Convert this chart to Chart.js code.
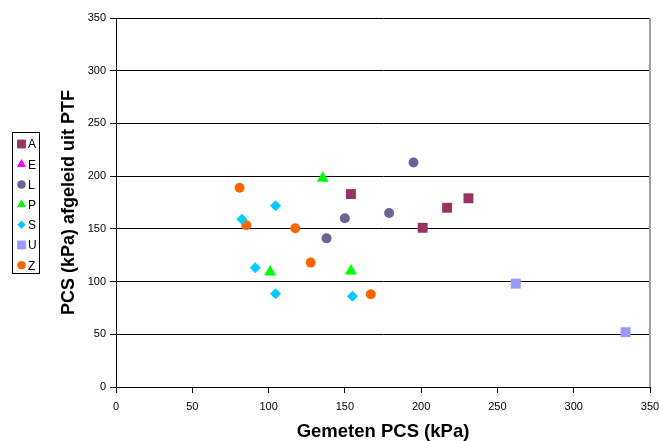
<!DOCTYPE html>
<html>
<head>
<meta charset="utf-8">
<script src="https://cdn.jsdelivr.net/npm/chart.js@4/dist/chart.umd.min.js"></script>
<style>
  html, body { margin: 0; padding: 0; background: #fff; }
  #wrap { width: 659px; height: 441px; }
</style>
</head>
<body>
<div id="wrap"><canvas id="c" width="659" height="441"></canvas></div>
<script>
// series (x = gemeten, y = afgeleid uit PTF)
const seriesNames = ["A", "E", "L", "P", "S", "U", "Z"];
const aX = [154, 201, 217, 231];
const aY = [183, 151, 170, 179];
const eX = [];
const eY = [];
const lX = [195, 150, 179, 138];
const lY = [213, 160, 165, 141];
const pX = [135.5, 101, 154];
const pY = [198, 109, 110];
const sX = [104.6, 82.5, 91.3, 104.6, 155];
const sY = [172, 159, 113, 88.5, 86];
const uX = [262, 334];
const uY = [98, 52];
const zX = [81, 85.4, 117.5, 127.6, 167];
const zY = [189, 153.5, 150.5, 118, 88];
const xTicks = [0, 50, 100, 150, 200, 250, 300, 350];
const yTicks = [0, 50, 100, 150, 200, 250, 300, 350];

const COLORS = ["#993366", "#ff00ff", "#666699", "#00ff00", "#00ccff", "#9999ff", "#ff6600"];
const STYLES = ["rect", "triangle", "circle", "triangle", "rectRot", "rect", "circle"];
const RADII = [7, 7, 5, 7, 5.5, 7, 5];
const FONT = "Arial, 'Liberation Sans', sans-serif";

function pts(xs, ys) { return xs.map((x, i) => ({ x: x, y: ys[i] })); }

const allX = [aX, eX, lX, pX, sX, uX, zX];
const allY = [aY, eY, lY, pY, sY, uY, zY];

const datasets = seriesNames.map((name, i) => ({
    label: name,
    data: pts(allX[i], allY[i]),
    pointStyle: STYLES[i],
    pointRadius: RADII[i],
    pointHoverRadius: RADII[i],
    backgroundColor: COLORS[i],
    borderColor: COLORS[i],
    borderWidth: 0,
}));

// legend box on the left + grey right edge of the plot area
const extras = {
    id: "extras",
    afterDraw(chart) {
        const ctx = chart.ctx;
        const ca = chart.chartArea;
        ctx.save();
        ctx.strokeStyle = "#a0a0a0";
        ctx.lineWidth = 2;
        ctx.beginPath();
        ctx.moveTo(ca.right, ca.top);
        ctx.lineTo(ca.right, ca.bottom);
        ctx.stroke();

        ctx.strokeStyle = "#000";
        ctx.lineWidth = 1;
        ctx.strokeRect(12.5, 132.5, 27, 141);
        ctx.font = "12px " + FONT;
        ctx.textBaseline = "middle";
        chart.data.datasets.forEach((ds, i) => {
            const y = 144 + i * 20.2;
            ctx.fillStyle = ds.backgroundColor;
            Chart.helpers.drawPoint(ctx, {
                pointStyle: ds.pointStyle,
                radius: ds.pointStyle === "rect" ? 6 : (ds.pointStyle === "triangle" ? 5 : 4),
                borderWidth: 0,
            }, 21.5, y);
            ctx.fill();
            ctx.fillStyle = "#000";
            ctx.fillText(ds.label, 28, y + 1);
        });
        ctx.restore();
    }
};

new Chart(document.getElementById("c"), {
    type: "scatter",
    data: { datasets },
    options: {
        responsive: false,
        animation: false,
        layout: { padding: { left: 58, top: 18, right: 9, bottom: 0 } },
        plugins: { legend: { display: false }, tooltip: { enabled: false } },
        scales: {
            x: {
                type: "linear",
                min: 0, max: 350,
                afterBuildTicks: s => { s.ticks = xTicks.map(v => ({ value: v })); },
                afterFit: s => { s.height = 54; s.paddingLeft = 0; s.paddingRight = 0; },
                grid: { drawOnChartArea: false, drawTicks: true, tickLength: 6, color: "#000" },
                border: { color: "#000", width: 1 },
                ticks: { color: "#000", padding: 7, maxRotation: 0, font: { family: FONT, size: 11 } },
                title: { display: true, text: "Gemeten PCS (kPa)", color: "#000",
                         padding: { top: 0, bottom: -2.3 },
                         font: { family: FONT, size: 18.5, weight: "bold" } },
            },
            y: {
                type: "linear",
                min: 0, max: 350,
                afterBuildTicks: s => { s.ticks = yTicks.map(v => ({ value: v })); },
                afterFit: s => { s.width = 58; s.paddingTop = 0; s.paddingBottom = 0; },
                grid: { drawOnChartArea: true, drawTicks: true, tickLength: 6, color: "#000" },
                border: { color: "#000", width: 1 },
                ticks: { color: "#000", padding: 4, font: { family: FONT, size: 11 } },
                title: { display: true, text: "PCS (kPa) afgeleid uit PTF", color: "#000",
                         padding: 0,
                         font: { family: FONT, size: 18, weight: "bold" } },
            },
        },
    },
    plugins: [extras],
});
</script>
</body>
</html>
